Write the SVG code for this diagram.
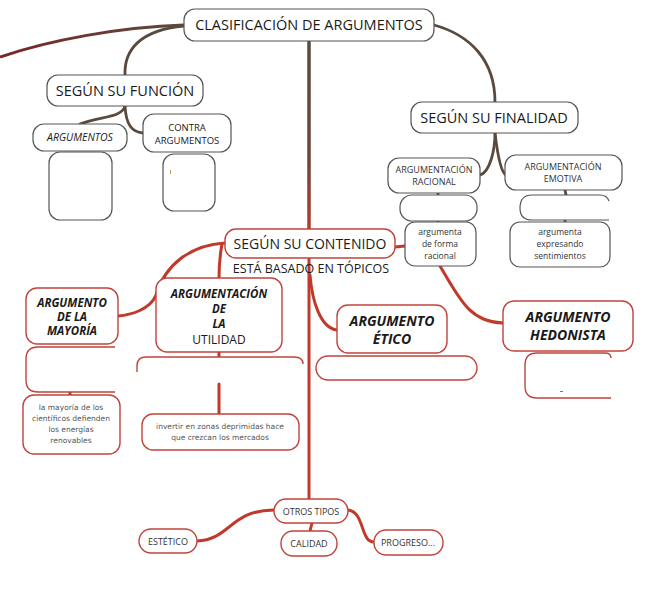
<svg xmlns="http://www.w3.org/2000/svg" width="666" height="600" viewBox="0 0 666 600">
<defs>
<linearGradient id="gv" gradientUnits="userSpaceOnUse" x1="0" y1="41" x2="0" y2="240">
<stop offset="0" stop-color="#5a4a3e"/><stop offset="0.6" stop-color="#6e4438"/><stop offset="1" stop-color="#c0392b"/>
</linearGradient>
<linearGradient id="gl" gradientUnits="userSpaceOnUse" x1="0" y1="0" x2="184" y2="0">
<stop offset="0" stop-color="#7a2626"/><stop offset="1" stop-color="#5a4a3e"/>
</linearGradient>
<style>
text{font-family:"Open Sans","Liberation Sans",sans-serif;fill:#1a1a1a;text-anchor:middle}
.g{fill:#fff;stroke:#555;stroke-width:1.2}
.r{fill:#fff;stroke:#c0443b;stroke-width:1.4}
.cd{fill:none;stroke:#5a4a3e;stroke-width:2.8;stroke-linecap:round}
.cr{fill:none;stroke:#c0392b;stroke-width:3;stroke-linecap:round}
.big{font-size:14.5px}
.sm{font-size:9px;fill:#333}
.xs{font-size:8.5px;fill:#333}
.bi{font-weight:bold;font-style:italic}
.hw{font-family:"DejaVu Sans","Liberation Sans",sans-serif;font-size:7.5px;fill:#555}
</style>
</defs>
<rect width="666" height="600" fill="#fff"/>
<g id="connectors">
<path d="M184,25 C120,27 50,40 0,57" fill="none" stroke="url(#gl)" stroke-width="3"/>
<path d="M309,41 V240" fill="none" stroke="url(#gv)" stroke-width="3.5"/>
<path class="cr" d="M309,240 V499"/>
<path class="cd" d="M184,26 C140,30 124,50 125,75"/>
<path class="cd" d="M434,25 C470,35 495,60 495,102"/>
<path class="cd" d="M125,106 C122,118 100,116 80,124"/>
<path class="cd" d="M125,106 C126,125 132,132 143,133"/>
<path class="cd" d="M495,133 C495,150 490,172 480,175"/>
<path class="cd" d="M495,133 C497,150 500,172 506,175"/>
<path class="cd" d="M438,193 V195"/>
<path class="cd" d="M565,190 L566,195"/>
<path class="cd" d="M438,221 V222"/>
<path class="cd" d="M565,220 V222"/>
<path class="cr" d="M395,247 L405,246"/>
<path class="cr" d="M440,266 C460,300 470,322 503,323"/>
<path class="cr" d="M225,243 C190,245 165,265 156,295 C150,310 130,315 118,316"/>
<path class="cr" d="M222,244 C220,255 219,265 219,278"/>
<path class="cr" d="M310,275 C312,300 320,328 337,330"/>
<path class="cr" d="M219,352 V357"/>
<path class="cr" d="M219,384 V414"/>
<path class="cr" d="M70,392 V395"/>
<path class="cr" d="M274,510 C230,510 230,540 197,541"/>
<path class="cr" d="M312,523 L310,531"/>
<path class="cr" d="M348,510 C365,512 360,542 374,542"/>
</g>
<g id="n-title"><rect x="184" y="9" width="250" height="32" rx="11" class="g"/><text x="309" y="30" class="big">CLASIFICACIÓN DE ARGUMENTOS</text></g>
<g id="n-funcion"><rect x="47" y="75" width="156" height="31" rx="11" class="g"/><text x="125" y="96" class="big">SEGÚN SU FUNCIÓN</text></g>
<g id="n-argumentos"><rect x="33" y="124" width="94" height="27" rx="11" class="g"/><text x="80" y="141" style="font-size:10.5px;font-style:italic">ARGUMENTOS</text></g>
<g id="n-contra"><rect x="143" y="114" width="88" height="38" rx="11" class="g"/><text x="187" y="131" style="font-size:9.5px">CONTRA</text><text x="187" y="144" style="font-size:9.5px">ARGUMENTOS</text></g>
<g id="n-arg-empty"><rect x="49" y="152" width="63" height="68" rx="11" class="g"/></g>
<g id="n-contra-empty"><rect x="163" y="154" width="52" height="57" rx="11" class="g"/><rect x="170" y="170" width="1" height="4" fill="#c8a050"/></g>
<g id="n-finalidad"><rect x="411" y="102" width="167" height="31" rx="11" class="g"/><text x="494" y="123" class="big">SEGÚN SU FINALIDAD</text></g>
<g id="n-racional"><rect x="388" y="158" width="92" height="35" rx="11" class="g"/><text x="434" y="173" class="sm">ARGUMENTACIÓN</text><text x="434" y="185" class="sm">RACIONAL</text></g>
<g id="n-emotiva"><rect x="505" y="155" width="117" height="35" rx="11" class="g"/><text x="563" y="170" class="sm">ARGUMENTACIÓN</text><text x="563" y="182" class="sm">EMOTIVA</text></g>
<g id="n-racional-empty"><rect x="400" y="195" width="77" height="26" rx="12" class="g"/></g>
<g id="n-emotiva-empty"><path d="M609,220 H532 Q520,220 520,208 Q520,195 532,195 H600 Q607,195 609,201" class="g"/></g>
<g id="n-forma-racional"><rect x="405" y="222" width="71" height="44" rx="10" class="g"/><text x="440" y="235" class="xs">argumenta</text><text x="440" y="247" class="xs">de forma</text><text x="440" y="259" class="xs">racional</text></g>
<g id="n-sentimientos"><rect x="510" y="222" width="100" height="45" rx="10" class="g"/><text x="560" y="235" class="xs">argumenta</text><text x="560" y="247" class="xs">expresando</text><text x="560" y="259" class="xs">sentimientos</text></g>
<g id="n-contenido"><rect x="225" y="229" width="170" height="29" rx="11" class="r"/><text x="310" y="249" style="font-size:14px">SEGÚN SU CONTENIDO</text><text x="311" y="273" style="font-size:12.5px">ESTÁ BASADO EN TÓPICOS</text></g>
<g id="n-mayoria"><rect x="26" y="288" width="92" height="56" rx="11" class="r"/><text x="72" y="307" class="bi" style="font-size:11.5px">ARGUMENTO</text><text x="72" y="321" class="bi" style="font-size:11.5px">DE LA</text><text x="72" y="335" class="bi" style="font-size:11.5px">MAYORÍA</text></g>
<g id="n-utilidad"><rect x="156" y="278" width="126" height="74" rx="11" class="r"/><text x="219" y="298" class="bi" style="font-size:11.5px">ARGUMENTACIÓN</text><text x="219" y="313" class="bi" style="font-size:11.5px">DE</text><text x="219" y="328" class="bi" style="font-size:11.5px">LA</text><text x="219" y="344" style="font-size:12px">UTILIDAD</text></g>
<g id="n-mayoria-empty"><path d="M115,347 H38 Q26,347 26,359 V380 Q26,392 38,392 H115" class="r"/></g>
<g id="n-utilidad-empty"><path d="M137,372 V366 Q137,357 146,357 H294 Q303,357 303,364" class="r"/></g>
<g id="n-mayoria-text"><rect x="23" y="395" width="97" height="59" rx="11" class="r"/><text x="71" y="410" class="hw">la mayoría de los</text><text x="71" y="421" class="hw">científicos defienden</text><text x="71" y="432" class="hw">los energías</text><text x="71" y="443" class="hw">renovables</text></g>
<g id="n-utilidad-text"><rect x="142" y="414" width="157" height="36" rx="11" class="r"/><text x="220" y="429" class="hw">invertir en zonas deprimidas hace</text><text x="220" y="440" class="hw">que crezcan los mercados</text></g>
<g id="n-etico"><rect x="337" y="305" width="110" height="48" rx="11" class="r"/><text x="392" y="326" class="bi" style="font-size:14px">ARGUMENTO</text><text x="392" y="344" class="bi" style="font-size:14px">ÉTICO</text></g>
<g id="n-etico-empty"><rect x="316" y="356" width="161" height="24" rx="12" class="r"/></g>
<g id="n-hedonista"><rect x="503" y="301" width="130" height="50" rx="11" class="r"/><text x="568" y="322" class="bi" style="font-size:14px">ARGUMENTO</text><text x="568" y="340" class="bi" style="font-size:14px">HEDONISTA</text></g>
<g id="n-hedonista-empty"><path d="M611,398 H537 Q525,398 525,386 V365 Q525,353 537,353 H605 Q611,353 611,358" class="r"/><rect x="560" y="391" width="3" height="1" fill="#777"/></g>
<g id="n-otros"><rect x="274" y="499" width="74" height="24" rx="12" class="r"/><text x="311" y="515" class="sm">OTROS TIPOS</text></g>
<g id="n-estetico"><rect x="139" y="529" width="58" height="24" rx="12" class="r"/><text x="168" y="545" class="sm">ESTÉTICO</text></g>
<g id="n-calidad"><rect x="281" y="531" width="56" height="25" rx="12" class="r"/><text x="309" y="547" class="sm">CALIDAD</text></g>
<g id="n-progreso"><rect x="374" y="530" width="69" height="25" rx="12" class="r"/><text x="408" y="546" class="sm">PROGRESO...</text></g>
</svg>
